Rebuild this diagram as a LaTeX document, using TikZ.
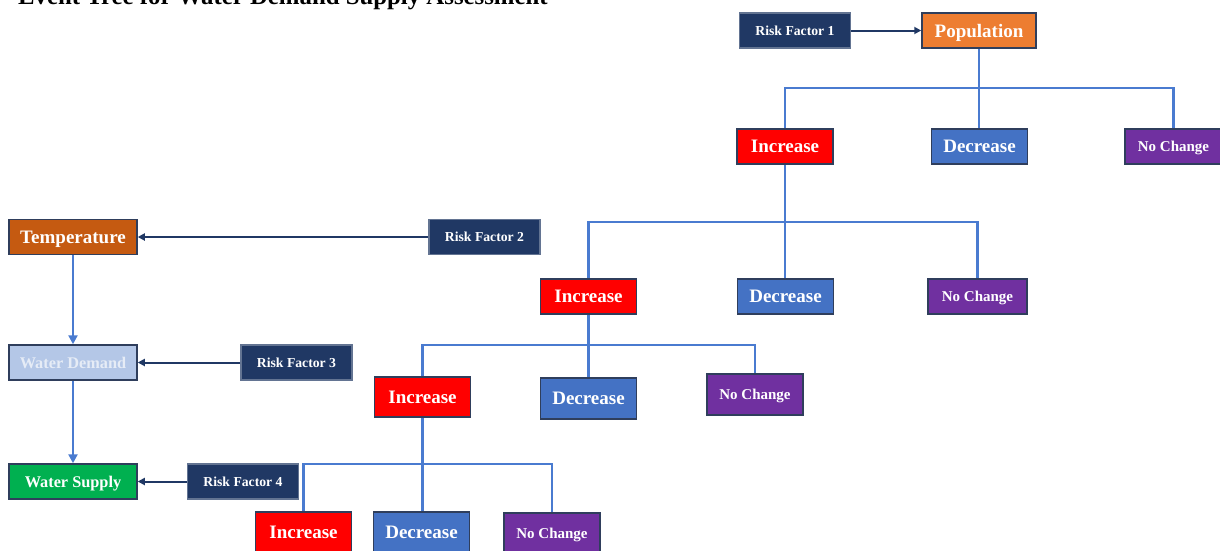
\documentclass[tikz,border=0pt]{standalone}
\usepackage{fontspec}
\setmainfont{Liberation Serif}
\usetikzlibrary{arrows.meta}
\definecolor{navy}{HTML}{203864}
\definecolor{edge}{HTML}{2F3E5C}
\definecolor{popc}{HTML}{ED7D31}
\definecolor{tempc}{HTML}{C55A11}
\definecolor{demc}{HTML}{B4C7E7}
\definecolor{demtext}{HTML}{E6ECF6}
\definecolor{supc}{HTML}{00B050}
\definecolor{incc}{HTML}{FF0000}
\definecolor{decc}{HTML}{4472C4}
\definecolor{ncc}{HTML}{7030A0}
\definecolor{linec}{HTML}{4A7BD0}
\tikzset{
  box/.style={draw=edge, line width=1.5pt, inner sep=0pt, text depth=0pt, text=white, font=\bfseries},
  big/.style={font=\fontsize{19}{19}\selectfont\bfseries},
  mid/.style={font=\fontsize{16.3}{16}\selectfont\bfseries},
  small/.style={font=\fontsize{15}{15}\selectfont\bfseries},
  risk/.style={box, fill=navy, draw=navy!70!white, font=\fontsize{13.7}{14}\selectfont\bfseries, minimum width=111, minimum height=35},
  incbox/.style={box, big, fill=incc, minimum width=96},
  decbox/.style={box, big, fill=decc, minimum width=96},
  ncbox/.style={box, small, fill=ncc, minimum width=97},
  tree/.style={draw=linec, line width=2.6pt},
  flow/.style={draw=linec, line width=2.6pt, -{Triangle[length=9pt,width=9pt]}},
  riskarrow/.style={draw=navy, line width=2pt, -{Triangle[length=7pt,width=7pt]}}
}
\begin{document}
\begin{tikzpicture}[x=1pt, y=-1pt]
\useasboundingbox (0,0) rectangle (1220,550);
\clip (0,0) rectangle (1220,550);
\fill[white] (0,0) rectangle (1220,550);

% title, partly above the page edge
\node[anchor=base west, inner sep=0pt, font=\fontsize{24.8}{25}\selectfont\bfseries] (title) at (18,4) {Event Tree for Water Demand Supply Assessment};

% left chain
\node[box, big, fill=tempc, minimum width=128, minimum height=35] (temp) at (73,237) {Temperature};
\node[box, mid, fill=demc, text=demtext, minimum width=128, minimum height=35] (dem) at (73,362.5) {Water Demand};
\node[box, mid, fill=supc, minimum width=128, minimum height=35] (sup) at (73,481.5) {Water Supply};

\node[risk] (rf1) at (795,30.5) {Risk Factor 1};
\node[risk] (rf2) at (484.5,237) {Risk Factor 2};
\node[risk] (rf3) at (296.5,362.5) {Risk Factor 3};
\node[risk] (rf4) at (243,481.5) {Risk Factor 4};

\draw[flow] (temp.south) -- (dem.north);
\draw[flow] (dem.south) -- (sup.north);
\draw[riskarrow] (rf2.west) -- (temp.east);
\draw[riskarrow] (rf3.west) -- (dem.east);
\draw[riskarrow] (rf4.west) -- (sup.east);

% tree
\node[box, big, fill=popc, minimum width=114, minimum height=35] (pop) at (979,30.5) {Population};
\draw[riskarrow] (rf1.east) -- (pop.west);

\node[incbox, minimum height=35] (inc1) at (785,146.5) {Increase};
\node[decbox, minimum height=35] (dec1) at (979.5,146.5) {Decrease};
\node[ncbox, minimum height=35] (nc1) at (1173.5,146.5) {No Change};

\node[incbox, minimum height=35] (inc2) at (588.5,296.5) {Increase};
\node[decbox, minimum height=35] (dec2) at (785.5,296.5) {Decrease};
\node[ncbox, minimum height=35, minimum width=99] (nc2) at (977.5,296.5) {No Change};

\node[incbox, minimum height=40] (inc3) at (422.5,397) {Increase};
\node[decbox, minimum height=41] (dec3) at (588.5,398.5) {Decrease};
\node[ncbox, minimum height=41, minimum width=96] (nc3) at (755,394.5) {No Change};

\node[incbox, minimum height=40] (inc4) at (303.5,532) {Increase};
\node[decbox, minimum height=40] (dec4) at (421.5,532) {Decrease};
\node[ncbox, minimum height=40, minimum width=96] (nc4) at (552,533) {No Change};

\coordinate (j1) at (979,88);
\coordinate (j2) at (785,222);
\coordinate (j3) at (588.5,345);
\coordinate (j4) at (422.5,464);

\draw[tree] (pop.south) -- (j1);
\draw[tree] (j1) -| (inc1.north);
\draw[tree] (j1) -- (dec1.north -| j1);
\draw[tree] (j1) -| (nc1.north);

\draw[tree] (inc1.south) -- (j2);
\draw[tree] (j2) -| (inc2.north);
\draw[tree] (j2) -- (dec2.north -| j2);
\draw[tree] (j2) -| (nc2.north);

\draw[tree] (inc2.south) -- (j3);
\draw[tree] (j3) -| (inc3.north);
\draw[tree] (j3) -- (dec3.north -| j3);
\draw[tree] (j3) -| (nc3.north);

\draw[tree] (inc3.south) -- (j4);
\draw[tree] (j4) -| (inc4.north);
\draw[tree] (j4) -- (dec4.north -| j4);
\draw[tree] (j4) -| (nc4.north);
\end{tikzpicture}
\end{document}
